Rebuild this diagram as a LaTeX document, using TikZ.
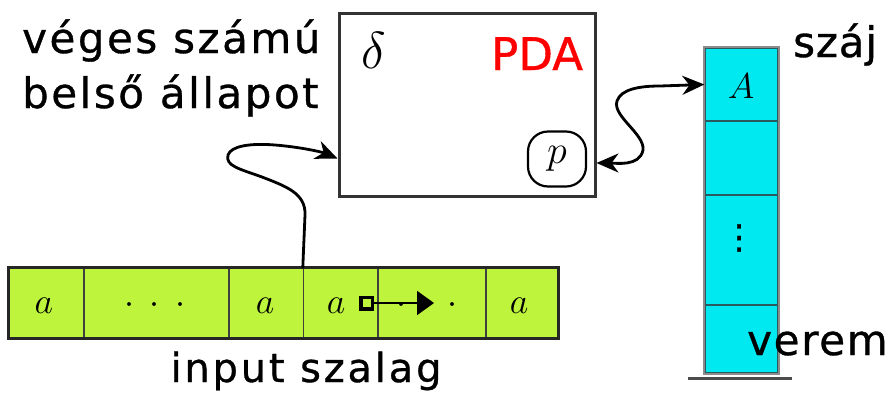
\RequirePackage{fix-cm}
\documentclass[tikz,border=0pt]{standalone}
\usepackage{fontspec}
\setmainfont{DejaVu Sans}[FakeBold=0.8]
\usetikzlibrary{arrows.meta}
\definecolor{tapegreen}{RGB}{190,245,60}
\definecolor{stackcyan}{RGB}{0,232,240}
\definecolor{stackline}{RGB}{40,90,95}
\tikzset{wtip/.tip={Stealth[length=22pt,width=19pt,inset=7pt]}}
\begin{document}
\begin{tikzpicture}[x=1pt,y=-1pt,
  lbl/.style={inner sep=0pt,anchor=base west,
    font=\fontsize{42}{50}\selectfont\addfontfeature{LetterSpace=6}},
  tapecell/.style={draw=black!75,line width=1.4pt,fill=tapegreen,
    minimum height=70pt,inner sep=0pt},
  stackcell/.style={draw=stackline,line width=1.3pt,fill=stackcyan,
    minimum width=73pt,inner sep=0pt},
  sym/.style={inner sep=0pt,anchor=base,font=\fontsize{36}{40}\selectfont},
  wire/.style={line width=2.8pt,black,line cap=round}]
\useasboundingbox (0,0) rectangle (896,397);

% input tape
\node[tapecell,minimum width=75pt]   (c1) at (46.5,303)  {};
\node[tapecell,minimum width=145pt]  (c2) at (156.5,303) {};
\node[tapecell,minimum width=74.5pt] (c3) at (266.25,303) {};
\node[tapecell,minimum width=74.5pt] (c4) at (340.75,303) {};
\node[tapecell,minimum width=108pt]  (c5) at (432,303)   {};
\node[tapecell,minimum width=72pt]   (c6) at (522,303)   {};
\draw[line width=2.8pt,black!85] (c1.north west) rectangle (c6.south east);
\node[sym] (t1) at (44,313)  {$a$};
\node[sym] (t2) at (155,313) {$\cdot\hspace{8pt}\cdot\hspace{8pt}\cdot$};
\node[sym] (t3) at (265,313) {$a$};
\node[sym] (t4) at (336,313) {$a$};
\node[sym] (t5) at (427,313) {$\cdot\hspace{8pt}\cdot\hspace{8pt}\cdot$};
\node[sym] (t6) at (519,313) {$a$};
% reading head
\coordinate (hs) at (359,303);
\coordinate (he) at (434,303);
\draw[line width=2pt,
  {Square[open,line width=3.5pt,length=15pt,width=15pt]}-{Triangle[length=17pt,width=24pt]}]
  (hs) -- (he);
\node[inner sep=0pt,anchor=base,font=\fontsize{40}{48}\selectfont\addfontfeature{LetterSpace=7}]
  (tapelbl) at (306,382) {input szalag};

% finite control
\node[draw=black!80,line width=3pt,minimum width=256pt,minimum height=183pt,
  inner sep=0pt] (pda) at (467,104.5) {};
\node[inner sep=0pt,anchor=base,font=\fontsize{52}{56}\selectfont] (delta) at (374,68) {$\delta$};
\node[inner sep=0pt,anchor=base west,text=red,font=\fontsize{45}{54}\selectfont]
  (pdalbl) at (491,70) {PDA};
\node[draw=black,line width=2.2pt,rounded corners=20pt,minimum width=58pt,
  minimum height=55pt,inner sep=0pt,font=\fontsize{40}{44}\selectfont]
  (p) at (557,159) {$p$};
\node[lbl] (l1) at (22,53)  {véges számú};
\node[lbl] (l2) at (22,108) {belső állapot};

% stack
\node[stackcell,minimum height=73pt]  (s1) at (741.5,84.5) {};
\node[stackcell,minimum height=74pt]  (s2) at (741.5,158)  {};
\node[stackcell,minimum height=110pt] (s3) at (741.5,250)  {};
\node[stackcell,minimum height=68pt]  (s4) at (741.5,339)  {};
\draw[line width=1.8pt,black!45] (s1.north west) rectangle (s4.south east);
\coordinate (b1) at (688,378);
\coordinate (b2) at (792,378);
\draw[line width=3pt,black!70] (b1) -- (b2);
\node[inner sep=0pt,anchor=base,font=\fontsize{36}{40}\selectfont] (A) at (741,98) {$A$};
\node[inner sep=0pt,font=\fontsize{34}{38}\selectfont] (vd) at (739,238) {⋮};
\node[lbl,font=\fontsize{42}{50}\selectfont\addfontfeature{LetterSpace=2}] (top) at (793,57) {száj};
\node[lbl,font=\fontsize{42}{50}\selectfont\addfontfeature{LetterSpace=4}] (bot) at (747,355) {verem};

% tape head -> finite control
\draw[wire,-{wtip}] (c4.north west) -- (305,215)
  .. controls (306,193) and (285,186) .. (262,177)
  .. controls (240,169) and (225,166) .. (228,155)
  .. controls (231,146) and (250,143) .. (275,145)
  .. controls (300,147) and (322,152) .. ([yshift=39pt]pda.south west);
% finite control <-> top of stack
\draw[wire,{wtip}-{wtip}] ([yshift=-58.5pt]pda.east)
  .. controls (615,163) and (640,167) .. (643,150)
  .. controls (645,134) and (612,116) .. (617,101)
  .. controls (621,89) and (640,86) .. (660,86)
  -- (s1.west);
\end{tikzpicture}
\end{document}
